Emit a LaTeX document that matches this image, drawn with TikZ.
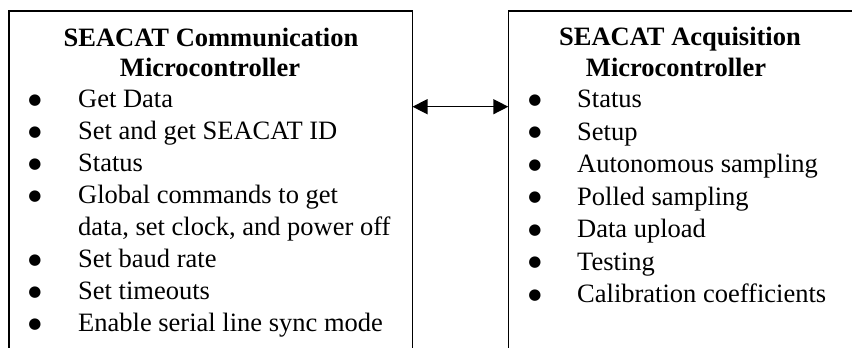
\documentclass[tikz,border=0pt]{standalone}
\usepackage{fontspec}
\setmainfont{Liberation Serif}
\newfontfamily\bulletfont{DejaVu Sans}
\usetikzlibrary{arrows.meta}
\begin{document}
\begin{tikzpicture}[x=1pt,y=-1pt,
  boxline/.style={line width=1.6pt},
  conn/.style={line width=1.4pt,{Triangle[length=15pt,width=15pt]}-{Triangle[length=15pt,width=15pt]}},
  titletext/.style={font=\fontsize{26.5}{30}\selectfont\bfseries,anchor=base,inner sep=0pt},
  itemtext/.style={font=\fontsize{26.5}{30}\selectfont,anchor=base west,inner sep=0pt},
  bul/.style={font=\bulletfont\fontsize{15}{15}\selectfont,anchor=center,inner sep=0pt}]
\useasboundingbox (0,0) rectangle (852,348);
% boxes (open at the bottom, right box runs past the right edge)
\draw[boxline] (9,352) -- (9,10.7) -- (412.5,10.7) -- (412.5,352);
\draw[boxline] (508.3,352) -- (508.3,10.7) -- (858,10.7);
\coordinate (lboxedge) at (412.5,106.7);
\coordinate (rboxedge) at (508.3,106.7);
\draw[conn] (lboxedge) -- (rboxedge);
% left box
\node[titletext] (lt1) at (211,46) {SEACAT Communication};
\node[titletext] (lt2) at (210,76) {Microcontroller};
\foreach \t [count=\i from 0] in {Get Data,Set and get SEACAT ID,Status,Global commands to get}{
  \node[bul] (lb\i) at (35,100.2+32*\i) {●};
  \node[itemtext] (li\i) at (78,107.7+32*\i) {\t};
}
\node[itemtext] (li4) at (78,235.7) {data, set clock, and power off};
\foreach \t [count=\i from 5] in {Set baud rate,Set timeouts,Enable serial line sync mode}{
  \node[bul] (lb\i) at (35,100.2+32*\i) {●};
  \node[itemtext] (li\i) at (78,107.7+32*\i) {\t};
}
% right box
\node[titletext] (rt1) at (680,45.5) {SEACAT Acquisition};
\node[titletext] (rt2) at (676,76.5) {Microcontroller};
\foreach \t [count=\i from 0] in {Status,Setup,Autonomous sampling,Polled sampling,Data upload,Testing,Calibration coefficients}{
  \node[bul] (rb\i) at (535,100.2+32.5*\i) {●};
  \node[itemtext] (ri\i) at (577,107.7+32.5*\i) {\t};
}
\end{tikzpicture}
\end{document}
